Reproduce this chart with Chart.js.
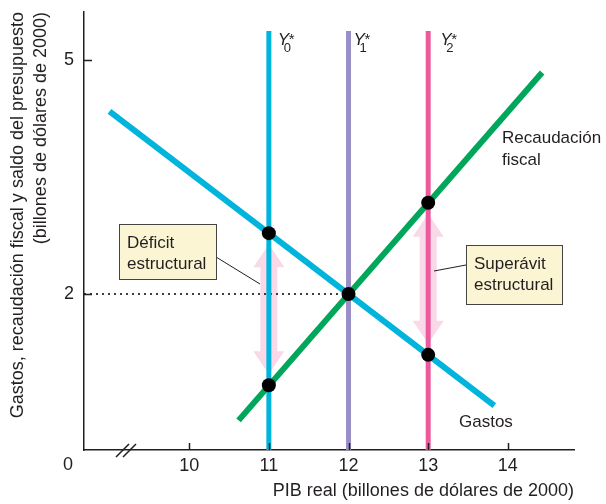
<!DOCTYPE html>
<html>
<head>
<meta charset="utf-8">
<script src="https://cdn.jsdelivr.net/npm/chart.js@4.4.0/dist/chart.umd.min.js"></script>
<style>
  html, body { margin: 0; padding: 0; background: #fff; }
  #wrap { width: 606px; height: 504px; }
</style>
</head>
<body>
<div id="wrap"><canvas id="chart" width="606" height="504"></canvas></div>
<script>
// Values (billones de dólares de 2000)
const xTicks = [10, 11, 12, 13, 14];
const yTicks = [2, 5];
const potentialGdp = [11, 12, 13];          // Y0*, Y1*, Y2*
const potentialSub = ['0', '1', '2'];
const potentialTop = 5.37;
const gastosX = [9.0, 13.83];
const gastosY = [4.34, 0.57];
const recaudacionX = [10.62, 14.43];
const recaudacionY = [0.38, 4.84];
const puntosX = [11, 11, 12, 13, 13];
const puntosY = [2.78, 0.83, 2, 3.17, 1.22];
const brechaX = [11, 13];                    // déficit / superávit estructural
const saldoX = 12, saldoY = 2;

const X_MIN = 8.68, X_MAX = 14.83, Y_MAX = 5.615;
const INK = '#231f20';
const FONT = 'Liberation Sans';
const lineColors = ['#00b4dc', '#9a8ec6', '#ea5a9c'];

Chart.defaults.font.family = FONT;
Chart.defaults.color = INK;

const pts = (xs, ys) => xs.map((v, i) => ({x: v, y: ys[i]}));

function drawDoubleArrow(ctx, cx, top, bottom) {
    const shaft = 8.5, head = 15.5, len = 23;
    ctx.beginPath();
    ctx.moveTo(cx, top);
    ctx.lineTo(cx + head, top + len);
    ctx.lineTo(cx + shaft, top + len);
    ctx.lineTo(cx + shaft, bottom - len);
    ctx.lineTo(cx + head, bottom - len);
    ctx.lineTo(cx, bottom);
    ctx.lineTo(cx - head, bottom - len);
    ctx.lineTo(cx - shaft, bottom - len);
    ctx.lineTo(cx - shaft, top + len);
    ctx.lineTo(cx - head, top + len);
    ctx.closePath();
    ctx.fill();
}

function drawNote(ctx, left, top, w, h, lines, lead) {
    ctx.strokeStyle = INK;
    ctx.lineWidth = 1;
    ctx.beginPath();
    ctx.moveTo(lead[0], lead[1]);
    ctx.lineTo(lead[2], lead[3]);
    ctx.stroke();
    ctx.fillStyle = '#fbf5d3';
    ctx.fillRect(left, top, w, h);
    ctx.strokeStyle = '#444';
    ctx.strokeRect(left + 0.5, top + 0.5, w, h);
    ctx.fillStyle = INK;
    ctx.font = '17px ' + FONT;
    ctx.textAlign = 'left';
    ctx.textBaseline = 'alphabetic';
    lines.forEach((t, i) => ctx.fillText(t, left + 8, top + 24 + i * 21));
}

const overlay = {
    id: 'overlay',
    beforeDatasetsDraw(chart) {
        const {ctx, scales: {x, y}} = chart;
        ctx.save();
        ctx.fillStyle = '#f9d9e7';
        brechaX.forEach(v => {
            const ys = puntosY.filter((_, i) => puntosX[i] === v);
            const top = y.getPixelForValue(Math.max(...ys)) + 11;
            const bottom = y.getPixelForValue(Math.min(...ys)) - 11;
            drawDoubleArrow(ctx, x.getPixelForValue(v), top, bottom);
        });
        ctx.restore();
    },
    afterDatasetsDraw(chart) {
        const {ctx, chartArea: a, scales: {x, y}} = chart;
        ctx.save();
        // inward tick marks
        ctx.strokeStyle = INK;
        ctx.lineWidth = 1.5;
        ctx.beginPath();
        xTicks.forEach(v => {
            const px = Math.round(x.getPixelForValue(v)) + 0.5;
            ctx.moveTo(px, a.bottom); ctx.lineTo(px, a.bottom - 7);
        });
        yTicks.forEach(v => {
            const py = Math.round(y.getPixelForValue(v)) + 0.5;
            ctx.moveTo(a.left, py); ctx.lineTo(a.left + 8, py);
        });
        // axis break
        [116, 123].forEach(bx => { ctx.moveTo(bx, a.bottom + 7); ctx.lineTo(bx + 13, a.bottom - 6); });
        ctx.stroke();

        ctx.fillStyle = INK;
        ctx.font = '18px ' + FONT;
        ctx.textAlign = 'center';
        ctx.textBaseline = 'middle';
        ctx.fillText('0', 68, a.bottom + 15);

        // curve labels
        ctx.font = '17px ' + FONT;
        ctx.textAlign = 'left';
        ctx.textBaseline = 'alphabetic';
        ctx.fillText('Recaudación', 502, 143);
        ctx.fillText('fiscal', 502, 165);
        ctx.fillText('Gastos', 459, 427);

        // Y* labels
        const offs = [9, 5, 12];
        potentialGdp.forEach((v, i) => {
            const px = x.getPixelForValue(v) + offs[i];
            ctx.font = 'italic 17px ' + FONT;
            ctx.fillText('Y', px, 45);
            ctx.font = '15px ' + FONT;
            ctx.fillText('*', px + 11, 44);
            ctx.font = '13px ' + FONT;
            ctx.fillText(potentialSub[i], px + 6, 52);
        });

        drawNote(ctx, 119, 224, 97, 55, ['Déficit', 'estructural'], [216, 257, 260, 284]);
        drawNote(ctx, 466, 245, 96, 59, ['Superávit', 'estructural'], [434, 271, 466, 265]);
        ctx.restore();
    }
};

const datasets = [
    {data: pts(puntosX, puntosY), showLine: false, pointRadius: 7, pointBackgroundColor: '#000', pointBorderWidth: 0},
    {data: pts(gastosX, gastosY), borderColor: '#00b4dc', borderWidth: 6},
    {data: pts(recaudacionX, recaudacionY), borderColor: '#00a65a', borderWidth: 6},
    ...potentialGdp.map((v, i) => ({
        data: [{x: v, y: 0}, {x: v, y: potentialTop}],
        borderColor: lineColors[i], borderWidth: 5
    })),
    {data: [{x: X_MIN, y: saldoY}, {x: saldoX, y: saldoY}], borderColor: '#000', borderWidth: 1.5, borderDash: [2, 4]}
];

new Chart(document.getElementById('chart'), {
    type: 'scatter',
    data: {datasets: datasets.map(d => ({pointRadius: 0, showLine: true, borderCapStyle: 'butt', ...d}))},
    options: {
        responsive: false,
        animation: false,
        layout: {padding: {top: 12, right: 32, left: 0, bottom: 0}},
        plugins: {legend: {display: false}, tooltip: {enabled: false}},
        scales: {
            x: {
                type: 'linear', min: X_MIN, max: X_MAX,
                afterBuildTicks: s => { s.ticks = xTicks.map(v => ({value: v})); },
                afterFit: s => { s.height = 54; s.paddingLeft = 0; s.paddingRight = 0; },
                grid: {display: false, drawTicks: false},
                border: {color: INK, width: 1.5},
                ticks: {font: {size: 18}, padding: 5},
                title: {display: true, text: 'PIB real (billones de dólares de 2000)', align: 'end',
                        font: {size: 18}, padding: {bottom: 2}}
            },
            y: {
                min: 0, max: Y_MAX,
                afterBuildTicks: s => { s.ticks = yTicks.map(v => ({value: v})); },
                afterFit: s => { s.width = 84; s.paddingTop = 0; s.paddingBottom = 0; },
                grid: {display: false, drawTicks: false},
                border: {color: INK, width: 1.5},
                ticks: {font: {size: 18}, padding: 10},
                title: {display: true, text: ['Gastos, recaudación fiscal y saldo del presupuesto', '(billones de dólares de 2000)'],
                        align: 'end', font: {size: 18, lineHeight: 1.3}, padding: {top: 6}}
            }
        }
    },
    plugins: [overlay]
});
</script>
</body>
</html>
